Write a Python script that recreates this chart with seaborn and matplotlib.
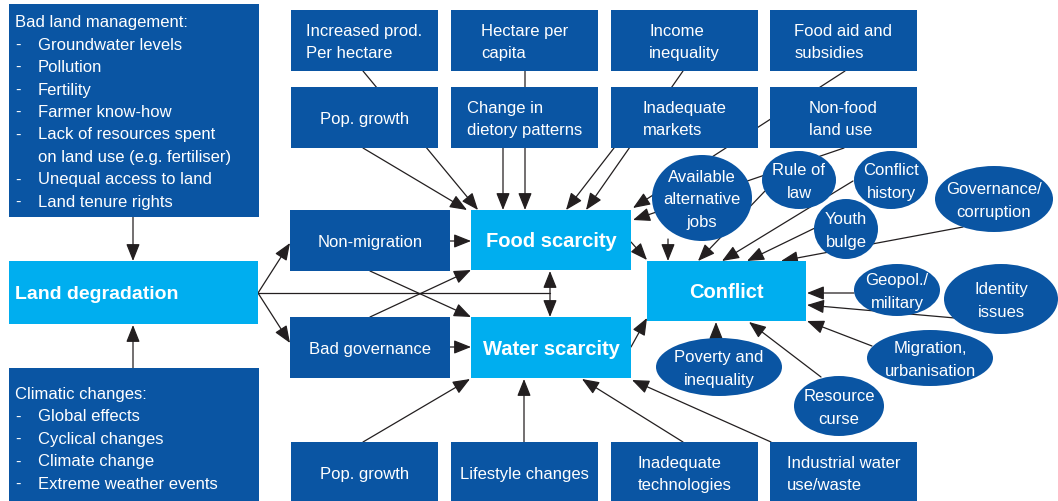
"""
Land degradation -> food / water scarcity -> conflict, as a box-and-arrow diagram
"""

import matplotlib
matplotlib.use("Agg")
import matplotlib.pyplot as plt
from matplotlib.patches import Rectangle, Ellipse
import seaborn as sns

DARK = "#0A55A3"
LIGHT = "#00AEEF"
INK = "#231F20"


# ─────────────────────────────────────────────
# Labels (content only)
# ─────────────────────────────────────────────
list_titles = ["Bad land management:", "Climatic changes:"]
land_items = ["Groundwater levels", "Pollution", "Fertility", "Farmer know-how",
              "Lack of resources spent\non land use (e.g. fertiliser)",
              "Unequal access to land", "Land tenure rights"]
climate_items = ["Global effects", "Cyclical changes", "Climate change",
                 "Extreme weather events"]

top_row = ["Increased prod.\nPer hectare", "Hectare per\ncapita",
           "Income\ninequality", "Food aid and\nsubsidies"]
second_row = ["Pop. growth", "Change in\ndietory patterns",
              "Inadequate\nmarkets", "Non-food\nland use"]
bottom_row = ["Pop. growth", "Lifestyle changes",
              "Inadequate\ntechnologies", "Industrial water\nuse/waste"]
side_boxes = ["Non-migration", "Bad governance"]
core_boxes = ["Land degradation", "Food scarcity", "Water scarcity", "Conflict"]
drivers = ["Available\nalternative\njobs", "Rule of\nlaw", "Conflict\nhistory",
           "Youth\nbulge", "Governance/\ncorruption", "Geopol./\nmilitary",
           "Identity\nissues", "Migration,\nurbanisation", "Resource\ncurse",
           "Poverty and\ninequality"]


# ─────────────────────────────────────────────
# Layout (pixel space of the 1058x502 canvas)
# ─────────────────────────────────────────────
COL_X = [291, 451, 611, 770]
COL_W, ROW_H = 147, 61
ROW_Y = [11, 88, 443]                       # top, second, bottom rows

LIST_BOX = [(9, 5, 250, 213), (9, 369, 250, 133)]     # x, y, w, h
LIST_Y0 = [21, 393]
LINE_STEP = 22.5

SIDE_BOX = [(290, 211, 160, 61), (290, 318, 160, 61)]
CORE_BOX = [(9, 262, 249, 63), (471, 211, 160, 60),
            (471, 318, 160, 61), (647, 262, 159, 60)]

DRIVER_ELL = [(702, 199, 50, 43), (799, 181, 37, 29), (891, 181, 37, 29),
              (846, 230, 32, 30), (994, 200, 59, 33), (897, 291, 43, 26),
              (1001, 300, 57, 35), (930, 359, 63, 28), (839, 407, 45, 30),
              (719, 368, 63, 29)]

# (start, end, double-headed)
ARROWS = [
    ((133, 218), (133, 262), False), ((133, 369), (133, 326), False),
    ((258, 294), (290, 244), False), ((258, 294), (290, 344), False),
    ((550, 272), (550, 318), True),
    ((450, 242), (471, 242), False), ((450, 348), (471, 348), False),
    ((370, 272), (471, 318), False), ((370, 318), (471, 271), False),
    ((363, 443), (470, 380), False), ((524, 443), (524, 380), False),
    ((683, 443), (582, 380), False), ((771, 443), (632, 381), False),
    ((363, 72), (478, 211), False), ((363, 149), (467, 211), False),
    ((525, 72), (525, 211), False), ((503, 149), (503, 211), False),
    ((683, 72), (586, 211), False), ((614, 149), (566, 211), False),
    ((845, 72), (633, 209), False), ((844, 149), (633, 221), False),
    ((631, 243), (647, 261), False), ((631, 348), (647, 319), False),
    ((668, 240), (668, 262), False), ((765, 192), (698, 262), False),
    ((853, 182), (722, 262), False), ((817, 228), (747, 262), False),
    ((963, 228), (781, 262), False), ((854, 294), (807, 294), False),
    ((955, 319), (807, 306), False), ((872, 347), (807, 322), False),
    ((821, 378), (749, 323), False), ((716, 340), (716, 323), False),
]
PLAIN_LINES = [((258, 294), (550, 294))]


sns.set_theme(style="white")
plt.rcParams["font.family"] = ["Liberation Sans", "DejaVu Sans"]

fig = plt.figure(figsize=(10.58, 5.02), dpi=100)
ax = fig.add_axes([0, 0, 1, 1])
ax.set_xlim(0, 1058)
ax.set_ylim(502, 0)
ax.axis("off")

TXT = dict(color="white", fontsize=12, zorder=4)
LS = 1.6


def box(x, y, w, h, color):
    ax.add_patch(Rectangle((x, y), w, h, facecolor=color, edgecolor="none", zorder=2))


# ── arrows first, so boxes hide the parts that run behind them ──
for (p0, p1) in PLAIN_LINES:
    ax.plot([p0[0], p1[0]], [p0[1], p1[1]], color=INK, lw=0.9, zorder=1)

for start, end, both in ARROWS:
    style = "<|-|>" if both else "-|>"
    ax.annotate("", xy=end, xytext=start,
                arrowprops=dict(arrowstyle=style + ",head_length=0.75,head_width=0.3",
                                color=INK, lw=0.9, shrinkA=0, shrinkB=0,
                                mutation_scale=14),
                zorder=1)

# ── list boxes ──
for (x, y, w, h), title, y0, items in zip(LIST_BOX, list_titles, LIST_Y0,
                                          [land_items, climate_items]):
    box(x, y, w, h, DARK)
    ax.text(x + 6, y0, title, ha="left", va="center_baseline", **TXT)
    row = 1
    for item in items:
        for k, line in enumerate(item.split("\n")):
            yy = y0 + row * LINE_STEP
            if k == 0:
                ax.text(x + 6, yy, "-", ha="left", va="center_baseline", **TXT)
            ax.text(x + 29, yy, line, ha="left", va="center_baseline", **TXT)
            row += 1

# ── the three rows of dark boxes ──
for y, labels in zip(ROW_Y, [top_row, second_row, bottom_row]):
    for x, lab in zip(COL_X, labels):
        box(x, y, COL_W, ROW_H, DARK)
        ax.text(x + COL_W / 2, y + ROW_H / 2 + 1, lab, ha="center", va="center",
                multialignment="left", linespacing=LS, **TXT)

for (x, y, w, h), lab in zip(SIDE_BOX, side_boxes):
    box(x, y, w, h, DARK)
    ax.text(x + w / 2, y + h / 2 + 1, lab, ha="center", va="center", **TXT)

# ── core light-blue boxes ──
for i, ((x, y, w, h), lab) in enumerate(zip(CORE_BOX, core_boxes)):
    box(x, y, w, h, LIGHT)
    if i == 0:
        ax.text(x + 6, y + h / 2 + 1, lab, ha="left", va="center",
                color="white", fontsize=14, fontweight="bold", zorder=4)
    else:
        ax.text(x + w / 2, y + h / 2 + 1, lab, ha="center", va="center",
                color="white", fontsize=14.5, fontweight="bold", zorder=4)

# ── conflict drivers (ellipses) ──
for (cx, cy, rx, ry), lab in zip(DRIVER_ELL, drivers):
    ax.add_patch(Ellipse((cx, cy), 2 * rx, 2 * ry, facecolor=DARK,
                         edgecolor="none", zorder=3))
    ax.text(cx, cy + 1, lab, ha="center", va="center", multialignment="center",
            linespacing=LS, **TXT)

fig.savefig("out.png", dpi=100)
plt.close(fig)
